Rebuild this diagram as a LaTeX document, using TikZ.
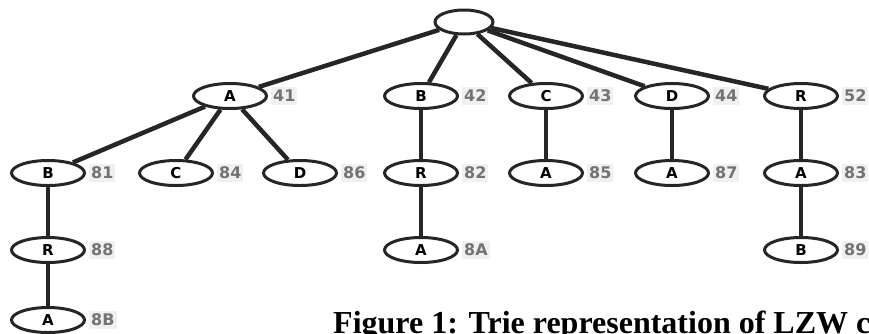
\documentclass[tikz,border=0pt]{standalone}
\usepackage{fontspec}
\setmainfont{Liberation Serif}
\newfontfamily\letterfont{DejaVu Sans}
\usetikzlibrary{shapes.geometric}
\tikzset{
  trienode/.style={ellipse, draw=black!85, line width=3pt, minimum width=73pt,
    minimum height=25pt, inner sep=0pt, font=\letterfont\bfseries\fontsize{15}{15}\selectfont},
  rootnode/.style={trienode, minimum width=58pt, minimum height=24pt},
  code/.style={anchor=west, inner xsep=2pt, inner ysep=3pt, fill=black!6,
    text=black!55, font=\letterfont\bfseries\fontsize{16}{16}\selectfont},
  link/.style={line width=4.5pt, draw=black!85}
}
\begin{document}
\begin{tikzpicture}[x=1pt,y=-1pt]
\clip (0,0) rectangle (869,333);
\fill[white] (0,0) rectangle (869,333);

% root
\node[rootnode] (root) at (464,22) {};

% first level
\node[trienode] (a)  at (230,96) {A};
\node[trienode] (b)  at (421,96) {B};
\node[trienode] (c)  at (546,96) {C};
\node[trienode] (d)  at (672,96) {D};
\node[trienode] (r)  at (801,96) {R};

% second level
\node[trienode] (ab) at (48,173)  {B};
\node[trienode] (ac) at (176,173) {C};
\node[trienode] (ad) at (300,173) {D};
\node[trienode] (br) at (421,173) {R};
\node[trienode] (ca) at (546,173) {A};
\node[trienode] (da) at (672,173) {A};
\node[trienode] (ra) at (801,173) {A};

% third level
\node[trienode] (abr) at (48,250)  {R};
\node[trienode] (bra) at (421,250) {A};
\node[trienode] (rab) at (801,250) {B};

% fourth level
\node[trienode] (abra) at (48,320) {A};

% dictionary codes
\foreach \n/\t in {a/41,b/42,c/43,d/44,r/52,ab/81,ac/84,ad/86,br/82,ca/85,da/87,ra/83,
                   abr/88,bra/8A,rab/89,abra/8B}
  \node[code] (\n-code) at ([xshift=3pt]\n.east) {\t};

% links
\foreach \p/\q in {root/a,root/b,root/c,root/d,root/r,a/ab,a/ac,a/ad,b/br,c/ca,d/da,r/ra,
                   ab/abr,br/bra,ra/rab,abr/abra}
  \draw[link] (\p) -- (\q);

% caption
\node[anchor=base west, inner sep=0pt, font=\bfseries\fontsize{32}{32}\selectfont]
  (caption) at (333,333) {Figure 1: Trie representation of LZW c};
\end{tikzpicture}
\end{document}
